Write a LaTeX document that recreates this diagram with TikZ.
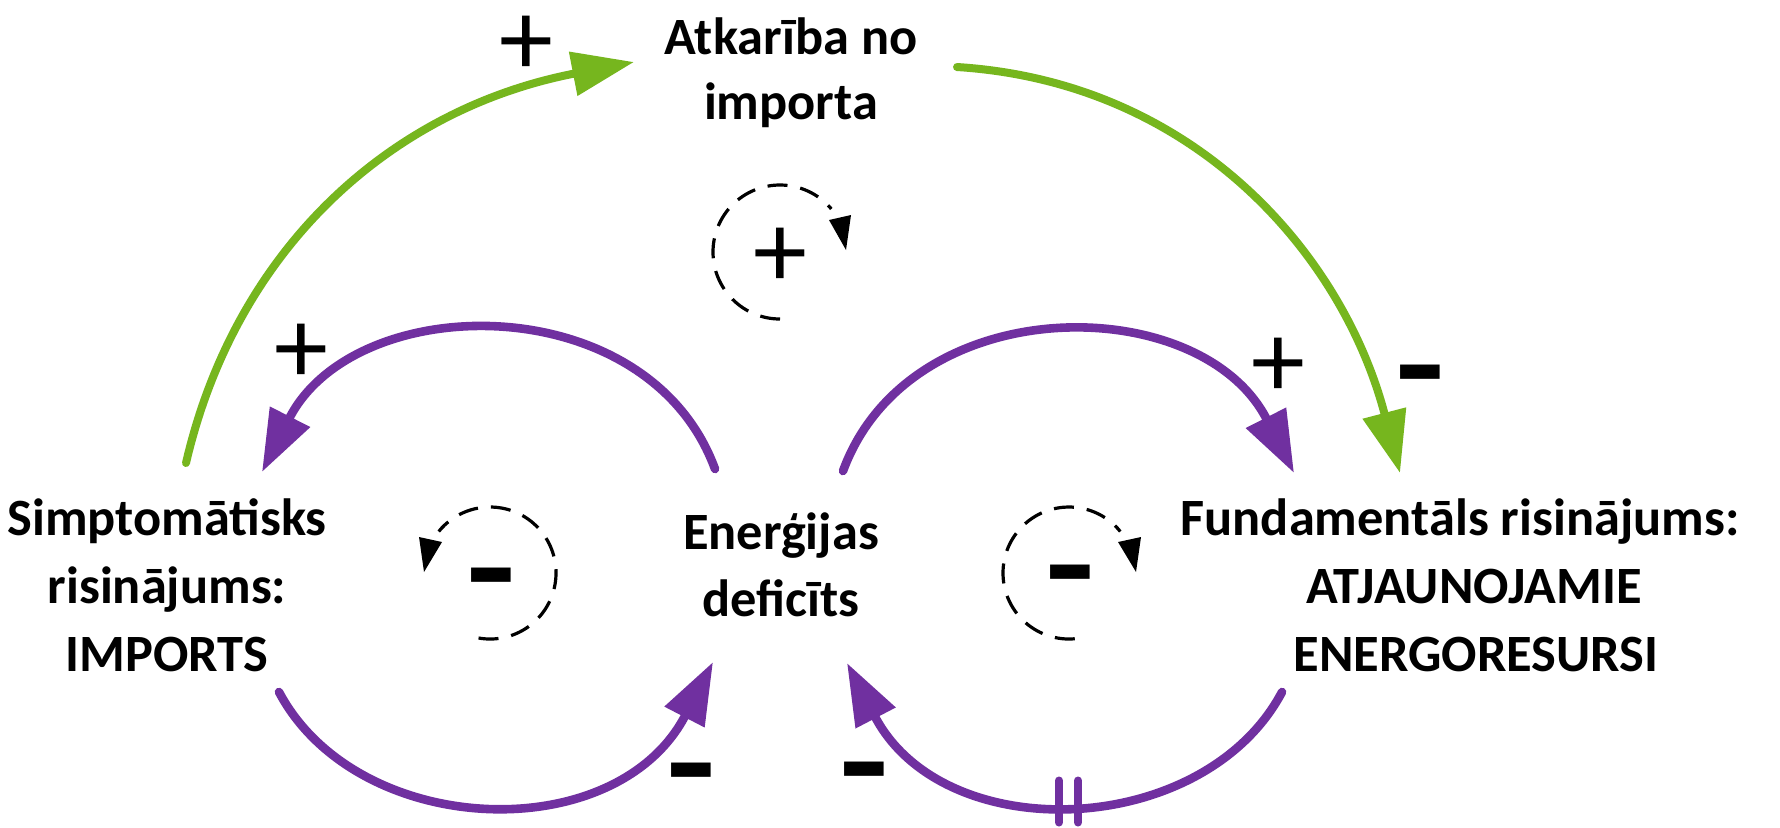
\documentclass[tikz,border=0pt]{standalone}
\usepackage{fontspec}
\setmainfont{Carlito}
\usetikzlibrary{arrows.meta}
\definecolor{cldgreen}{RGB}{118,182,30}
\definecolor{cldpurple}{RGB}{112,48,160}
\tikzset{
  lbl/.style={font=\fontsize{26.2pt}{34pt}\selectfont\bfseries, inner sep=0pt, anchor=base},
  greenlink/.style={draw=cldgreen, line width=4pt, line cap=round, -{Triangle[length=31pt,width=21.5pt]}},
  purplelink/.style={draw=cldpurple, line width=4.3pt, line cap=round, -{Triangle[length=31pt,width=21.5pt]}},
  plussign/.style={font=\fontsize{54pt}{54pt}\selectfont, inner sep=0pt},
  minussign/.style={font=\fontsize{43pt}{43pt}\selectfont\bfseries, inner sep=0pt},
  loopdash/.style={draw=black, line width=1.6pt, dash pattern=on 10pt off 6.5pt},
  looptip/.style={fill=black},
  delaymark/.style={draw=cldpurple, line width=4pt, line cap=round}
}
\newcommand{\cldminus}{\scalebox{1.3}[1.9]{–}}
\begin{document}
\begin{tikzpicture}[x=0.5pt,y=0.5pt]
\useasboundingbox[fill=white] (0,0) rectangle (1780,-827);

% text nodes
\node[lbl] (atk1) at (791,-54.5) {Atkarība no};
\node[lbl] (atk2) at (791,-119) {importa};
\node[lbl] (imp1) at (167,-535) {Simptomātisks};
\node[lbl] (imp2) at (167,-603) {risinājums:};
\node[lbl] (imp3) at (167,-671) {IMPORTS};
\node[lbl] (def1) at (781,-549) {Enerģijas};
\node[lbl] (def2) at (781,-616) {deficīts};
\node[lbl] (fun1) at (1460,-535) {Fundamentāls risinājums:};
\node[lbl] (fun2) at (1474,-603) {ATJAUNOJAMIE};
\node[lbl] (fun3) at (1476,-671) {ENERGORESURSI};

% connector end points
\coordinate (g1s) at (186,-463);
\coordinate (g1e) at (634,-62);
\coordinate (g2s) at (957,-67);
\coordinate (g2e) at (1400,-473);
\coordinate (p1s) at (715,-469);
\coordinate (p1e) at (262,-472);
\coordinate (p2s) at (843,-471);
\coordinate (p2e) at (1294,-473);
\coordinate (p3s) at (279,-692);
\coordinate (p3e) at (713,-662);
\coordinate (p4s) at (1282,-692);
\coordinate (p4e) at (847,-663);

% green links
\draw[greenlink] (g1s) .. controls (236,-248) and (391,-109) .. (g1e);
\draw[greenlink] (g2s) .. controls (1195,-82) and (1343,-255) .. (g2e);

% purple links
\draw[purplelink] (p1s) .. controls (648,-286) and (355,-289) .. (p1e);
\draw[purplelink] (p2s) .. controls (910,-288) and (1201,-290) .. (p2e);
\draw[purplelink] (p3s) .. controls (357,-839) and (616,-849) .. (p3e);
\draw[purplelink] (p4s) .. controls (1204,-839) and (944,-849) .. (p4e);

% delay mark
\coordinate (dl) at (1059,-801.5);
\coordinate (dr) at (1078,-801.5);
\draw[delaymark] ([yshift=-10.5pt]dl) -- ([yshift=10.5pt]dl);
\draw[delaymark] ([yshift=-10.5pt]dr) -- ([yshift=10.5pt]dr);

% polarity signs
\node[plussign] (s1) at (526,-46) {+};
\node[plussign] (s2) at (301,-354) {+};
\node[plussign] (s3) at (1278,-368) {+};
\node[minussign] (s4) at (1420,-392) {\cldminus};
\node[minussign] (s5) at (691,-790) {\cldminus};
\node[minussign] (s6) at (864,-789) {\cldminus};

% loop symbols
\coordinate (lt) at (780,-252);
\coordinate (ll) at (490,-573);
\coordinate (lr) at (1069,-573);
\draw[loopdash] (lt) ++(-90:33.5pt) arc[start angle=-90, end angle=-320, radius=33.5pt];
\fill[looptip] (846,-250) -- (829,-220) -- (851,-215) -- cycle;
\node[plussign] (lpt) at (780,-258) {+};

\draw[loopdash] (ll) ++(-100:33pt) arc[start angle=-100, end angle=141, radius=33pt];
\fill[looptip] (424,-572) -- (419,-537) -- (442,-542) -- cycle;
\node[minussign] (lml) at (491,-595) {\cldminus};

\draw[loopdash] (lr) ++(-85:33pt) arc[start angle=-85, end angle=-321, radius=33pt];
\fill[looptip] (1136,-572) -- (1118,-542) -- (1141,-537) -- cycle;
\node[minussign] (lmr) at (1070,-592) {\cldminus};
\end{tikzpicture}
\end{document}
